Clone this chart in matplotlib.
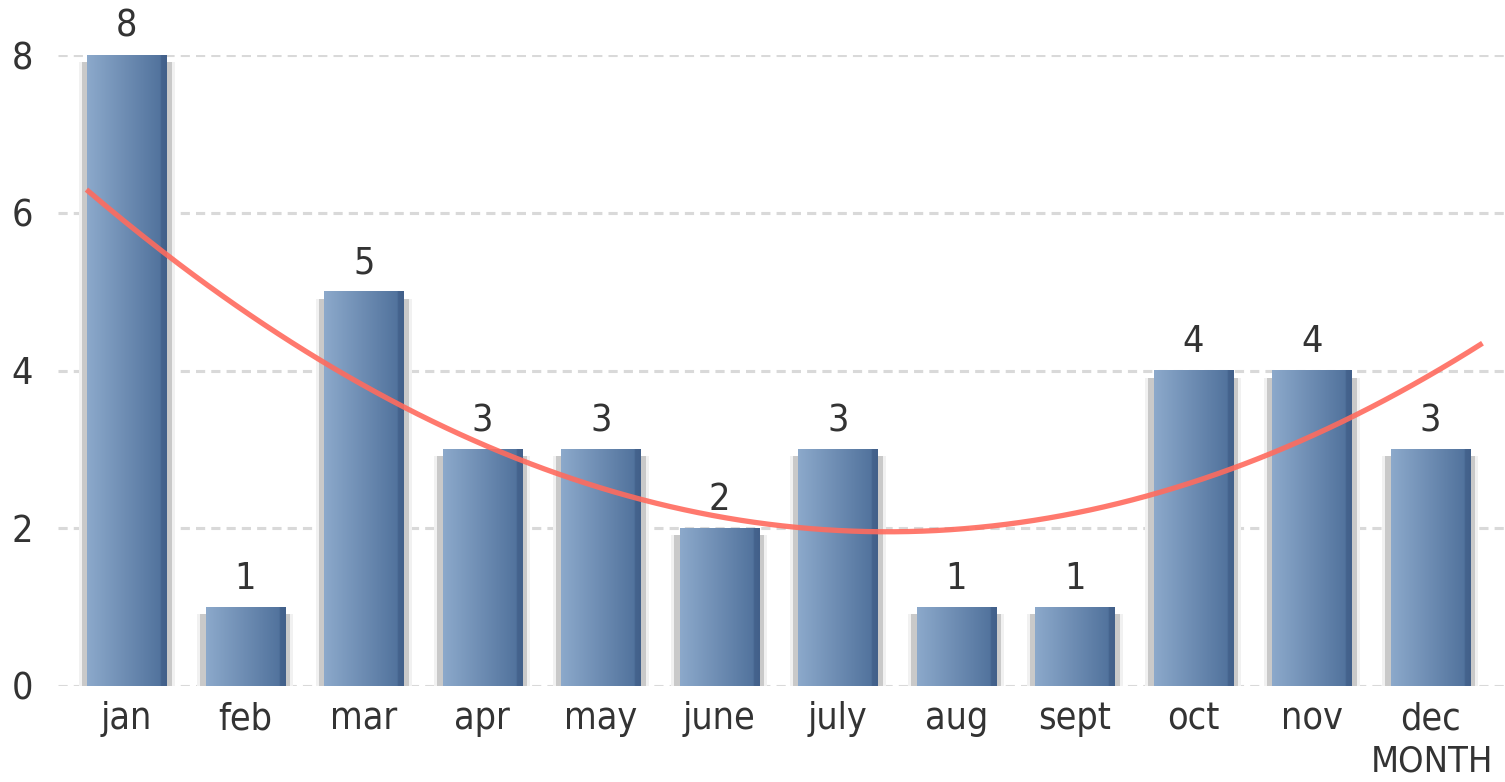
import numpy as np
import matplotlib
matplotlib.use("Agg")
import matplotlib.pyplot as plt
from matplotlib import font_manager
from matplotlib.colors import LinearSegmentedColormap
from matplotlib.patches import Rectangle

months = ["jan", "feb", "mar", "apr", "may", "june", "july", "aug", "sept", "oct", "nov", "dec"]
counts = [8, 1, 5, 3, 3, 2, 3, 1, 1, 4, 4, 3]
y_ticks = [0, 2, 4, 6, 8]

# narrow font if we have one
names = {f.name for f in font_manager.fontManager.ttflist}
if 'Liberation Sans Narrow' in names:
    plt.rcParams['font.family'] = ['Liberation Sans Narrow', 'DejaVu Sans']
else:
    plt.rcParams['font.family'] = ['DejaVu Sans']
    plt.rcParams['font.stretch'] = 'condensed'
text_col = '#333333'

fig = plt.figure(figsize=(15.05, 7.82), dpi=100)
ax = fig.add_axes([58 / 1505, 1 - 686 / 782, 1 - 58 / 1505, (686 - 55) / 782])

x = np.arange(len(months))
w = 0.67

# gradient for the bars, light on the left, darker on the right
bar_cmap = LinearSegmentedColormap.from_list(
    'barblue', [(0, '#8ca9cb'), (0.92, '#52739d'), (0.93, '#45648e'), (1, '#42608a')])
grad = np.linspace(0, 1, 200).reshape(1, -1)

for xi, v in zip(x, counts):
    # soft shadow round the bar
    ax.add_patch(Rectangle((xi - w / 2 - 0.07, 0), w + 0.14, v - 0.09,
                           facecolor='#f1f1f1', edgecolor='none', zorder=1))
    ax.add_patch(Rectangle((xi - w / 2 - 0.045, 0), w + 0.09, v - 0.09,
                           facecolor='#c9c9c9', edgecolor='none', zorder=1.5))
    ax.imshow(grad, cmap=bar_cmap, aspect='auto', interpolation='bilinear',
              extent=[xi - w / 2, xi + w / 2, 0, v], zorder=2)
    ax.annotate(str(v), (xi, v), xytext=(0, 13), textcoords='offset points',
                ha='center', va='baseline', fontsize=27, color=text_col)

# quadratic trendline
coef = np.polyfit(x, counts, 2)
xs = np.linspace(-0.34, 11.44, 300)
ax.plot(xs, np.polyval(coef, xs), color='#ff6b5e', lw=3.8, alpha=0.9,
        solid_capstyle='butt', zorder=3)

ax.set_xlim(-0.58, 11.63)
ax.set_ylim(0, 8)
ax.set_yticks(y_ticks)
ax.set_xticks(x)
ax.set_xticklabels(months)
ax.grid(axis='y', color='#d9d9d9', linestyle=(0, (3, 2)), linewidth=2.2)
ax.set_axisbelow(True)
for s in ax.spines.values():
    s.set_visible(False)
ax.tick_params(axis='both', length=0, labelsize=27, colors=text_col)
ax.tick_params(axis='x', pad=11)
ax.tick_params(axis='y', pad=18)

ax.set_xlabel('MONTH', fontsize=26, color=text_col)
ax.xaxis.set_label_coords((1432 - 58) / (1505 - 58), -0.092)

fig.savefig('out.png', dpi=100)
